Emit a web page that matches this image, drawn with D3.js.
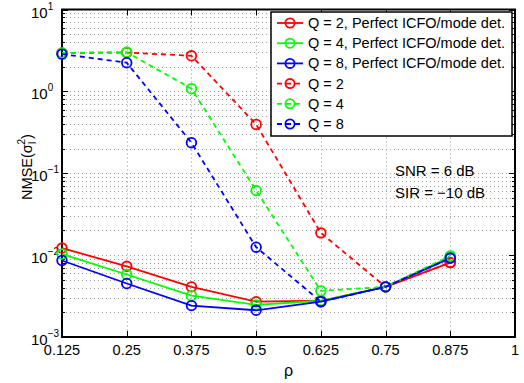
<!DOCTYPE html>
<html>
<head>
<meta charset="utf-8">
<script src="https://cdn.jsdelivr.net/npm/d3@7"></script>
<style>
  body { margin: 0; background: #fff; }
  svg { display: block; font-family: "Liberation Sans", Arial, sans-serif; }
</style>
</head>
<body>
<svg id="chart" width="524" height="383"></svg>
<script>
// x positions (rho)
const rho = [0.125, 0.25, 0.375, 0.5, 0.625, 0.75, 0.875];
const xTicks = [0.125, 0.25, 0.375, 0.5, 0.625, 0.75, 0.875, 1];

// NMSE values
const q2Perfect = [0.0122, 0.0073, 0.0041, 0.0027, 0.00277, 0.0041, 0.0081];
const q4Perfect = [0.0103, 0.0058, 0.0032, 0.00247, 0.00277, 0.0041, 0.0095];
const q8Perfect = [0.0086, 0.0045, 0.00242, 0.00212, 0.0027, 0.0041, 0.0092];
const q2 = [2.95, 2.98, 2.72, 0.395, 0.0187, 0.0041, 0.0081];
const q4 = [2.95, 3.0, 1.08, 0.0615, 0.00366, 0.0041, 0.0098];
const q8 = [2.85, 2.24, 0.236, 0.0125, 0.0027, 0.0041, 0.0092];

const seriesNames = [
  "Q = 2, Perfect ICFO/mode det.",
  "Q = 4, Perfect ICFO/mode det.",
  "Q = 8, Perfect ICFO/mode det.",
  "Q = 2", "Q = 4", "Q = 8"
];
const seriesValues = [q2Perfect, q4Perfect, q8Perfect, q2, q4, q8];
const seriesColors = ["#ff0000", "#00ff00", "#0000ff", "#ff0000", "#00ff00", "#0000ff"];
const seriesDashed = [false, false, false, true, true, true];

const svg = d3.select("#chart");
const plotL = 62, plotR = 515, plotT = 9.5, plotB = 337;

const x = d3.scaleLinear().domain([0.125, 1]).range([plotL, plotR]);
const y = d3.scaleLog().domain([1e-3, 10]).range([plotB, plotT]);

// grid values: every minor/major value in each decade
const yGrid = [];
for (let e = -3; e < 1; e++) {
  for (let m = 1; m < 10; m++) yGrid.push(m * Math.pow(10, e));
}
yGrid.push(10);
const yMajor = [1e-3, 1e-2, 1e-1, 1, 10];

const grid = svg.append("g").attr("stroke", "#999").attr("stroke-width", 1)
  .attr("stroke-dasharray", "1,3").attr("fill", "none");

grid.selectAll(".gx").data(xTicks.slice(1, -1)).enter().append("line")
  .attr("x1", d => Math.round(x(d)) + 0.5).attr("x2", d => Math.round(x(d)) + 0.5)
  .attr("y1", plotT).attr("y2", plotB);

grid.selectAll(".gy").data(yGrid.slice(1, -1)).enter().append("line")
  .attr("x1", plotL).attr("x2", plotR)
  .attr("y1", d => Math.round(y(d)) + 0.5).attr("y2", d => Math.round(y(d)) + 0.5);

// ticks (inward, all four sides)
const ticks = svg.append("g").attr("stroke", "#000").attr("stroke-width", 1);
xTicks.forEach(v => {
  const px = Math.round(x(v)) + 0.5;
  ticks.append("line").attr("x1", px).attr("x2", px).attr("y1", plotB).attr("y2", plotB - 6);
  ticks.append("line").attr("x1", px).attr("x2", px).attr("y1", plotT).attr("y2", plotT + 6);
});
yGrid.forEach(v => {
  const py = Math.round(y(v)) + 0.5;
  const len = yMajor.includes(v) ? 6 : 3;
  ticks.append("line").attr("x1", plotL).attr("x2", plotL + len).attr("y1", py).attr("y2", py);
  ticks.append("line").attr("x1", plotR).attr("x2", plotR - len).attr("y1", py).attr("y2", py);
});

// box
svg.append("rect").attr("x", plotL).attr("y", plotT)
  .attr("width", plotR - plotL).attr("height", plotB - plotT)
  .attr("fill", "none").attr("stroke", "#000").attr("stroke-width", 2);

// x tick labels
svg.append("g").selectAll("text").data(xTicks).enter().append("text")
  .attr("x", d => x(d)).attr("y", 355)
  .attr("text-anchor", "middle").attr("font-size", 14.5)
  .text(d => String(d));

// y tick labels 10^e
const yLab = svg.append("g").attr("font-size", 15);
yMajor.forEach(v => {
  const e = Math.round(Math.log10(v));
  const t = yLab.append("text").attr("x", 31).attr("y", y(v) + 8);
  t.append("tspan").text("10");
  t.append("tspan").attr("font-size", 10).attr("dy", -8)
    .text(e < 0 ? "\u2212" + (-e) : String(e));
});

// axis titles
svg.append("text").attr("x", x(0.5625)).attr("y", 376)
  .attr("text-anchor", "middle").attr("font-size", 16).text("\u03c1");

const yt = svg.append("text").attr("transform", "translate(32,167) rotate(-90)")
  .attr("text-anchor", "middle").attr("font-size", 14.5);
yt.append("tspan").text("NMSE(\u03c3");
yt.append("tspan").attr("font-size", 10).attr("dy", 4).text("I");
yt.append("tspan").attr("font-size", 10).attr("dx", -3).attr("dy", -11).text("2");
yt.append("tspan").attr("dy", 7).text(")");

// series
const line = d3.line().x((d, i) => x(rho[i])).y(d => y(d));
seriesValues.forEach((vals, k) => {
  const g = svg.append("g");
  g.append("path").datum(vals).attr("d", line)
    .attr("fill", "none").attr("stroke", seriesColors[k]).attr("stroke-width", 1.8)
    .attr("stroke-dasharray", seriesDashed[k] ? "5,4" : null);
  g.selectAll("circle").data(vals).enter().append("circle")
    .attr("cx", (d, i) => x(rho[i])).attr("cy", d => y(d)).attr("r", 4.8)
    .attr("fill", "none").attr("stroke", seriesColors[k]).attr("stroke-width", 1.8);
});

// annotation
svg.append("text").attr("x", 395).attr("y", 176).attr("font-size", 15).text("SNR = 6 dB");
svg.append("text").attr("x", 395).attr("y", 198).attr("font-size", 15).text("SIR = \u221210 dB");

// legend
const lg = svg.append("g");
lg.append("rect").attr("x", 271).attr("y", 12).attr("width", 241).attr("height", 124)
  .attr("fill", "#fff").attr("stroke", "#000").attr("stroke-width", 1.5);
seriesNames.forEach((name, k) => {
  const ly = 23 + k * 20.2;
  lg.append("line").attr("x1", 277).attr("x2", 303).attr("y1", ly).attr("y2", ly)
    .attr("stroke", seriesColors[k]).attr("stroke-width", 1.8)
    .attr("stroke-dasharray", seriesDashed[k] ? "5,4" : null);
  lg.append("circle").attr("cx", 290).attr("cy", ly).attr("r", 4.6)
    .attr("fill", "none").attr("stroke", seriesColors[k]).attr("stroke-width", 1.8);
  lg.append("text").attr("x", 308).attr("y", ly + 5).attr("font-size", 14.5).text(name);
});
</script>
</body>
</html>
